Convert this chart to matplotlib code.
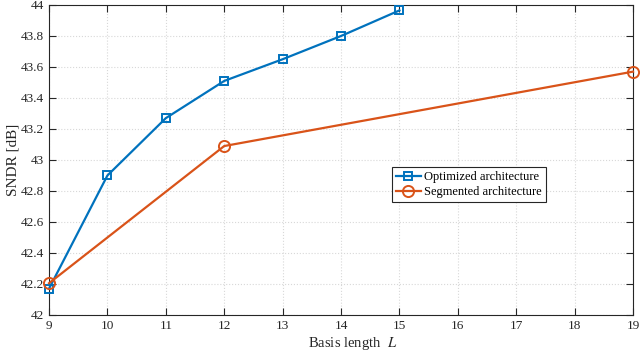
import matplotlib
matplotlib.use("Agg")
import matplotlib.pyplot as plt

L_opt = [9, 10, 11, 12, 13, 14, 15]
sndr_opt = [42.17, 42.90, 43.27, 43.51, 43.65, 43.80, 43.965]
L_seg = [9, 12, 19]
sndr_seg = [42.205, 43.09, 43.57]
xticks = list(range(9, 20))
yticks = [42, 42.2, 42.4, 42.6, 42.8, 43, 43.2, 43.4, 43.6, 43.8, 44]
ytick_labels = ["42", "42.2", "42.4", "42.6", "42.8", "43", "43.2", "43.4", "43.6", "43.8", "44"]

plt.rcParams['font.family'] = ['Liberation Serif', 'DejaVu Serif']
plt.rcParams['mathtext.fontset'] = 'stix'

fig = plt.figure(figsize=(6.4, 3.51), dpi=100)
ax = fig.add_axes([0.0766, 0.1026, 0.9125, 0.8832])

ax.plot(L_opt, sndr_opt, '-s', color='#0072BD', lw=1.6, ms=6,
        mfc='none', mew=1.4, label='Optimized architecture', clip_on=False, zorder=3)
ax.plot(L_seg, sndr_seg, '-o', color='#D95319', lw=1.6, ms=8,
        mfc='none', mew=1.4, label='Segmented architecture', clip_on=False, zorder=3)

ax.set_xlim(9, 19)
ax.set_ylim(42, 44)
ax.set_xticks(xticks)
ax.set_yticks(yticks)
ax.set_yticklabels(ytick_labels)
ax.grid(True, color='#d8d8d8', linestyle=':', linewidth=0.8)
ax.tick_params(direction='in', top=True, right=True, labelsize=9.5, colors='#262626', length=5, width=0.8)
for s in ax.spines.values():
    s.set_color('#262626')
    s.set_linewidth(0.8)

ax.set_xlabel('Basis length  $L$', fontsize=10.5, color='#262626')
ax.xaxis.set_label_coords(0.52, -0.065)
ax.set_ylabel('SNDR [dB]', fontsize=11, color='#262626')
ax.yaxis.set_label_coords(-0.05, 0.5)

leg = ax.legend(loc='lower left', bbox_to_anchor=(0.587, 0.365), fontsize=9,
                frameon=True, fancybox=False, edgecolor='#262626', framealpha=1,
                handlelength=2.0, handletextpad=0.3, borderpad=0.3, labelspacing=0.25,
                borderaxespad=0)
leg.get_frame().set_linewidth(0.8)

fig.savefig('out.png', dpi=100)
